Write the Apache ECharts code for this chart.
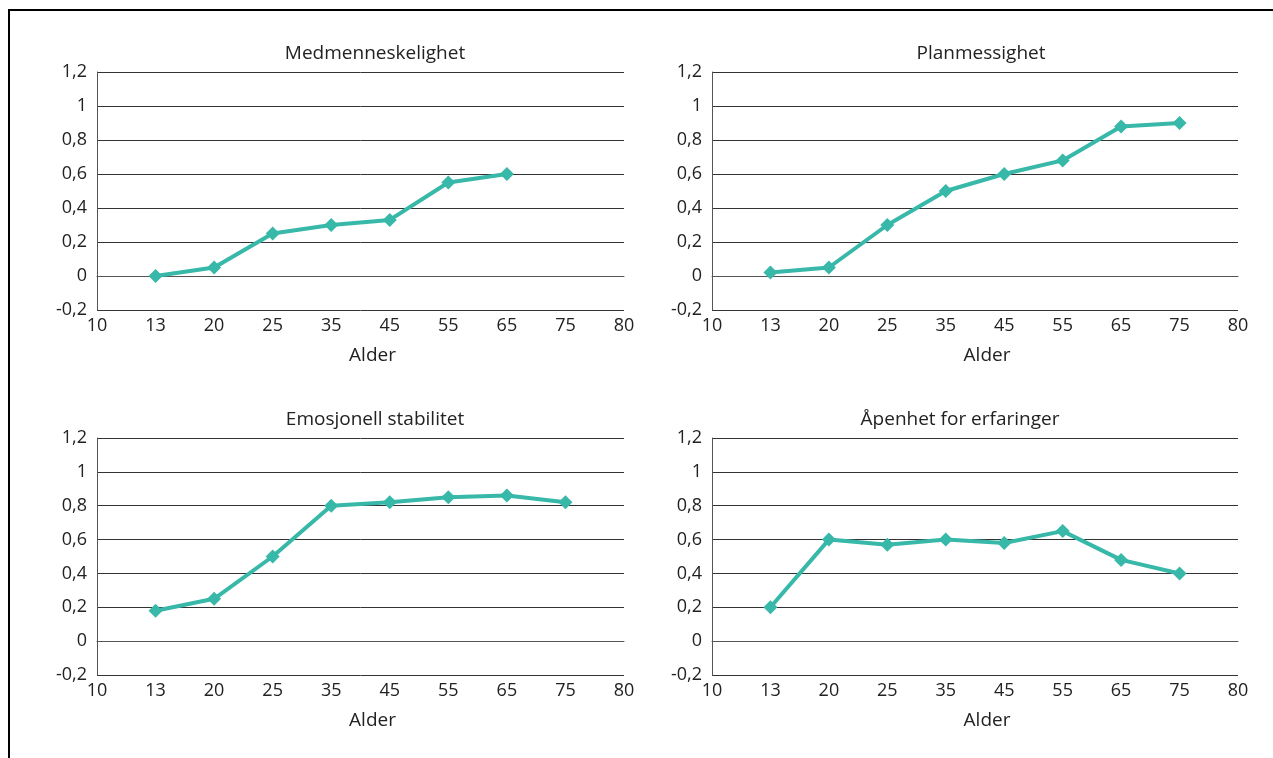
<!DOCTYPE html>
<html lang="no">
<head>
  <meta charset="UTF-8">
  <title>Personlighetstrekk etter alder</title>
  <style>
    #container, html, body {
      margin: 0;
      padding: 0;
      height: 100%;
      width: 100%;
      background: #fff;
    }
  </style>
</head>
<body>
  <div id="container"></div>
</body>
<script src="https://cdn.jsdelivr.net/npm/echarts@6/dist/echarts.min.js"></script>
<script>
  // aldersgrupper (10 og 80 er bare ytterpunkter på aksen)
  var ages = ['10', '13', '20', '25', '35', '45', '55', '65', '75', '80']
  var titles = ['Medmenneskelighet', 'Planmessighet', 'Emosjonell stabilitet', 'Åpenhet for erfaringer']

  var medmenneskelighet = [null, 0, 0.05, 0.25, 0.3, 0.33, 0.55, 0.6, null, null]
  var planmessighet = [null, 0.02, 0.05, 0.3, 0.5, 0.6, 0.68, 0.88, 0.9, null]
  var emosjonell = [null, 0.18, 0.25, 0.5, 0.8, 0.82, 0.85, 0.86, 0.82, null]
  var apenhet = [null, 0.2, 0.6, 0.57, 0.6, 0.58, 0.65, 0.48, 0.4, null]

  var allSeries = [medmenneskelighet, planmessighet, emosjonell, apenhet]

  var font = '"Open Sans", "Noto Sans", sans-serif'
  var teal = '#37b8a8'

  // plassering av de fire panelene
  var grids = [
    {left: 97, top: 72, width: 527, height: 238},
    {left: 712, top: 72, width: 526, height: 238},
    {left: 97, top: 438, width: 527, height: 237},
    {left: 712, top: 438, width: 526, height: 237}
  ]
  var titleX = [370, 976, 370, 955]
  var titleY = [39, 39, 405, 405]

  var charts = echarts.init(document.querySelector('#container'))

  var option = {
    animation: false,
    title: titles.map(function (t, i) {
      return {
        text: t,
        left: titleX[i],
        top: titleY[i],
        textAlign: 'center',
        textStyle: {fontFamily: font, fontSize: 19, fontWeight: 'normal', color: '#222'}
      }
    }),
    grid: grids,
    xAxis: grids.map(function (g, i) {
      return {
        type: 'category',
        gridIndex: i,
        data: ages,
        boundaryGap: false,
        axisTick: {show: false},
        axisLine: {lineStyle: {color: '#555', width: 1}},
        axisLabel: {fontFamily: font, fontSize: 18, color: '#222', margin: 7},
        name: 'Alder',
        nameLocation: 'middle',
        nameGap: 36,
        nameTextStyle: {fontFamily: font, fontSize: 19, color: '#222', padding: [0, 0, 0, 24]}
      }
    }),
    yAxis: grids.map(function (g, i) {
      return {
        type: 'value',
        gridIndex: i,
        min: -0.2,
        max: 1.2,
        interval: 0.2,
        axisLine: {show: true, lineStyle: {color: '#555', width: 1}},
        axisTick: {show: false},
        splitLine: {lineStyle: {color: '#333', width: 1}},
        axisLabel: {
          fontFamily: font,
          fontSize: 18,
          color: '#222',
          margin: 10,
          formatter: function (v) {
            return String(+v.toFixed(1)).replace('.', ',')
          }
        }
      }
    }),
    series: allSeries.map(function (d, i) {
      return {
        type: 'line',
        name: titles[i],
        xAxisIndex: i,
        yAxisIndex: i,
        data: d,
        symbol: 'diamond',
        symbolSize: 14,
        lineStyle: {color: teal, width: 4},
        itemStyle: {color: teal}
      }
    }),
    graphic: [
      {type: 'polyline', shape: {points: [[9, 758], [9, 10], [1273, 10]]}, style: {stroke: '#000', lineWidth: 2, fill: null}}
    ]
  }

  charts.setOption(option)
  window.onresize = charts.resize
</script>
</html>
